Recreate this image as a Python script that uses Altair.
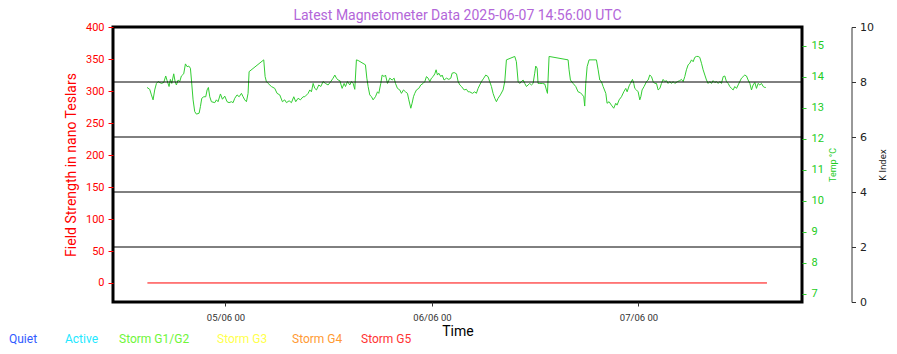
import altair as alt
import pandas as pd

# ---------------- data ----------------
title_text = "Latest Magnetometer Data 2025-06-07 14:56:00 UTC"
base_time = "2025-06-04T00:00:00"   # hours below are counted from here (UTC)

temp_hours = [
    14.89, 15.20, 15.40, 15.59, 15.78, 15.98, 16.17, 16.56, 16.83, 17.06, 17.22, 17.45, 17.60, 17.76, 17.99,
    18.15, 18.30, 18.50, 18.69, 18.88, 19.15, 19.35, 19.54, 19.74, 19.93, 20.05, 20.24, 20.43, 20.63, 20.94,
    21.09, 21.25, 21.48, 21.71, 21.87, 22.02, 22.18, 22.37, 22.76, 22.95, 23.14, 23.42, 23.65, 23.92, 24.19,
    24.42, 24.69, 24.89, 25.08, 25.35, 25.59, 25.86, 26.05, 26.24, 26.44, 26.63, 26.75, 28.45, 28.61, 28.76,
    28.96, 29.34, 29.73, 30.00, 30.31, 30.62, 30.89, 31.09, 31.40, 31.67, 31.94, 32.17, 32.44, 32.71, 33.02,
    33.22, 33.61, 33.80, 33.99, 34.19, 34.38, 34.58, 34.85, 35.08, 35.35, 35.62, 35.93, 36.24, 36.51, 36.71,
    36.90, 37.09, 37.29, 37.56, 37.79, 37.95, 38.18, 38.45, 38.64, 38.84, 39.03, 39.22, 39.42, 40.27, 40.43,
    40.58, 40.77, 40.97, 41.16, 41.43, 41.67, 41.82, 42.05, 42.21, 42.44, 42.60, 42.83, 43.10, 43.37, 43.60,
    43.76, 43.99, 44.26, 44.45, 44.69, 44.92, 45.15, 45.31, 45.54, 45.69, 45.85, 46.00, 46.20, 46.47, 46.70,
    46.97, 47.17, 47.36, 47.55, 47.75, 47.94, 48.13, 48.33, 48.48, 48.64, 48.79, 49.03, 49.18, 49.41, 49.68,
    49.96, 50.19, 50.34, 50.58, 50.85, 51.04, 51.24, 51.43, 51.74, 52.01, 52.20,
    52.39, 52.70, 52.97, 53.16, 53.36, 53.55, 53.75, 54.02, 54.25, 54.52, 54.71, 54.91, 55.10, 55.30, 55.49,
    55.68, 55.95, 56.26, 56.46, 56.65, 57.62, 57.81, 58.01, 58.20, 58.39, 58.59, 58.78, 58.98, 59.17, 59.36,
    59.56, 59.75, 59.94, 60.06, 60.22, 60.33, 60.53, 60.84, 61.11, 61.30, 61.42, 61.61, 63.82, 63.93, 64.09,
    64.40, 64.71, 64.98, 65.25, 65.48, 65.64, 65.75, 65.87, 66.03, 66.26, 67.11, 67.31, 67.50, 67.69, 67.89,
    68.20, 68.35, 68.58, 68.85, 69.12, 69.36, 69.51, 69.75, 70.02, 70.29, 70.52, 70.68, 70.91, 71.06, 71.30,
    71.45,
    71.57, 71.76, 71.96, 72.15, 72.27, 72.42, 72.65, 72.93, 73.12, 73.31, 73.51, 73.70, 73.89, 74.09, 74.28,
    74.48, 74.67, 74.86, 75.06, 75.25, 75.44, 75.64, 75.83, 76.02, 76.22, 76.53, 76.80, 76.99, 77.19, 77.38,
    77.57, 77.77, 77.96, 78.16, 78.35, 78.54, 78.74, 78.93, 79.12, 79.32, 79.51, 79.71, 79.90, 80.09, 80.29,
    80.48, 80.67, 80.87, 81.06, 81.26, 81.45, 81.64, 81.84, 82.03, 82.22, 82.42, 82.61, 82.80, 83.00, 83.19,
    83.39, 83.58, 83.77, 83.97, 84.16, 84.35, 84.55, 84.74, 84.94, 85.13, 85.32, 85.52, 85.71, 85.90, 86.10,
    86.29, 86.49, 86.68, 86.79,
]
temp_values = [
    13.65, 13.59, 13.41, 13.25, 13.57, 13.78, 13.84, 13.78, 13.81, 14.02, 13.87, 13.68, 13.91, 13.78, 14.09,
    13.84, 13.73, 13.89, 13.84, 14.02, 14.09, 14.41, 14.32, 14.34, 14.27, 13.89, 13.25, 12.87, 12.79, 12.82,
    13.03, 13.30, 13.35, 13.35, 13.57, 13.65, 13.35, 13.19, 13.16, 13.25, 13.19, 13.44, 13.27, 13.37, 13.19,
    13.16, 13.19, 13.16, 13.30, 13.41, 13.35, 13.46, 13.35, 13.25, 13.19, 13.46, 14.16, 14.54, 14.00, 13.84,
    13.78, 13.68, 13.62, 13.46, 13.41, 13.19, 13.25, 13.16, 13.22, 13.16, 13.35, 13.19, 13.30, 13.25, 13.35,
    13.35, 13.46, 13.57, 13.51, 13.78, 13.62, 13.57, 13.73, 13.68, 13.84, 13.78, 13.73, 13.84, 13.95, 14.05,
    13.95, 13.89, 13.87, 13.62, 13.78, 13.68, 13.84, 13.73, 13.84, 13.78, 13.59, 14.54, 14.52, 14.38, 13.95,
    13.68, 13.41, 13.35, 13.25, 13.35, 13.51, 13.46, 13.78, 14.05, 14.00, 14.05, 13.78, 13.95, 13.89, 13.95,
    13.78, 13.62, 13.57, 13.46, 13.57, 13.51, 13.46, 13.25, 12.98, 13.14, 13.35, 13.46, 13.57, 13.62, 13.73,
    13.78, 13.84, 14.00, 13.95, 13.84, 13.95, 14.00, 14.09, 14.22, 14.05, 14.11, 14.00, 14.05, 13.89, 13.95,
    13.91, 13.95, 14.11, 14.13, 14.09, 13.84, 13.73, 13.68, 13.57, 13.59, 13.51,
    13.51, 13.46, 13.51, 13.46, 13.62, 13.73, 13.84, 13.95, 14.05, 14.00, 13.84, 13.68, 13.46, 13.30, 13.19,
    13.30, 13.41, 13.57, 13.84, 14.54, 14.65, 14.48, 13.84, 13.78, 13.84, 13.89, 13.78, 13.68, 13.73, 13.78,
    13.73, 13.78, 14.11, 14.34, 14.27, 13.78, 13.78, 13.78, 13.76, 13.57, 13.46, 14.65, 14.54, 14.22, 13.89,
    13.78, 13.68, 13.51, 13.48, 13.41, 13.35, 13.05, 13.78, 14.32, 14.54, 14.54, 14.22, 13.89, 13.84, 13.68,
    13.46, 13.14, 13.19, 13.08, 12.98, 13.14, 13.08, 13.25, 13.35, 13.51, 13.62, 13.51, 13.70, 13.78, 13.91,
    13.78,
    13.62, 13.57, 13.51, 13.25, 13.35, 13.57, 13.68, 13.84, 13.89, 14.05, 14.00, 13.84, 13.78, 13.78, 13.57,
    13.62, 13.78, 13.91, 13.84, 13.87, 13.78, 13.84, 13.78, 13.84, 13.78, 13.84, 13.87, 13.91, 13.84, 14.00,
    14.22, 14.38, 14.43, 14.54, 14.48, 14.62, 14.65, 14.65, 14.62, 14.43, 14.22, 14.05, 13.89, 13.78, 13.84,
    13.78, 13.87, 13.81, 13.84, 13.78, 13.84, 13.78, 14.00, 14.02, 13.84, 13.78, 13.68, 13.62, 13.57, 13.68,
    13.62, 13.73, 13.84, 13.95, 14.00, 14.05, 14.02, 13.89, 13.78, 13.57, 13.73, 13.81, 13.62, 13.78, 13.73,
    13.78, 13.68, 13.65, 13.65,
]

field_hours = [14.93, 86.93]
field_values = [0.0, 0.0]

k_levels = [2, 4, 6, 8]

field_ticks = [0, 50, 100, 150, 200, 250, 300, 350, 400]
temp_ticks = [7, 8, 9, 10, 11, 12, 13, 14, 15]
k_ticks = [0, 2, 4, 6, 8, 10]
day_ticks = [5, 6, 7]   # June 2025, 00:00 UTC

legend_labels = ["Quiet", "Active", "Storm G1/G2", "Storm G3", "Storm G4", "Storm G5"]
legend_colors = ["#2f5bff", "#22e8ff", "#6ff53a", "#ffff4d", "#ff9a33", "#ff3333"]

# ---------------- layout constants ----------------
W, H = 689, 275
PAD_L, PAD_T = 113, 27
legend_x_abs = [9, 65, 119, 217, 292, 361]
legend_y_abs = 339

GREEN = "#32cd32"
LABEL_GREEN = "#22cc22"


def to_iso(hours):
    b = pd.Timestamp(base_time)
    return [(b + pd.Timedelta(hours=h)).strftime("%Y-%m-%dT%H:%M:%SZ") for h in hours]


temp_df = pd.DataFrame({"time": to_iso(temp_hours), "temp": temp_values})
field_df = pd.DataFrame({"time": to_iso(field_hours), "field": field_values})
k_df = pd.DataFrame({"k": k_levels})

x_scale = alt.Scale(
    type="utc",
    domain=[
        alt.DateTime(year=2025, month=6, date=4, hours=10, minutes=56, utc=True),
        alt.DateTime(year=2025, month=6, date=7, hours=19, minutes=0, utc=True),
    ],
)
x_axis = alt.Axis(
    values=[alt.DateTime(year=2025, month=6, date=d, hours=0, utc=True) for d in day_ticks],
    format="%d/%m %H",
    title="Time",
    domain=False,
    grid=False,
    tickColor="#333333",
    tickSize=4,
    labelPadding=6,
    labelFont="Roboto",
    labelFontSize=9.5,
    labelColor="#333333",
    titleFont="Roboto",
    titleFontSize=14,
    titleFontWeight="normal",
    titleColor="black",
    titleY=29,
    titleBaseline="middle",
)

field_line = alt.Chart(field_df).mark_line(color="red", strokeWidth=1).encode(
    x=alt.X("time:T", scale=x_scale, axis=x_axis),
    y=alt.Y(
        "field:Q",
        scale=alt.Scale(domain=[-29.8, 400.5], nice=False, zero=False),
        axis=alt.Axis(
            orient="left",
            values=field_ticks,
            domain=False,
            grid=False,
            tickColor="red",
            tickSize=5,
            labelColor="red",
            labelFont="Roboto",
            labelFontSize=11,
            labelPadding=4,
            title="Field Strength in nano Teslars",
            titleColor="red",
            titleFont="Roboto",
            titleFontSize=14,
            titleFontWeight="normal",
            titleAngle=270,
            titleX=-38,
            titleY=H / 2,
            titleAlign="center",
            titleBaseline="alphabetic",
        ),
    ),
)

temp_line = alt.Chart(temp_df).mark_line(color=GREEN, strokeWidth=1).encode(
    x=alt.X("time:T", scale=x_scale),
    y=alt.Y(
        "temp:Q",
        scale=alt.Scale(domain=[6.73, 15.6], nice=False, zero=False),
        axis=alt.Axis(
            orient="right",
            values=temp_ticks,
            domain=False,
            grid=False,
            tickColor=GREEN,
            tickSize=4,
            labelColor=LABEL_GREEN,
            labelFont="Roboto",
            labelFontSize=11,
            labelPadding=5,
            title="Temp °C",
            titleColor=LABEL_GREEN,
            titleFont="Roboto",
            titleFontSize=9,
            titleFontWeight="normal",
            titleAngle=270,
            titleX=33,
            titleY=H / 2,
            titleAlign="center",
            titleBaseline="alphabetic",
        ),
    ),
)

k_rules = alt.Chart(k_df).mark_rule(color="black", strokeWidth=1).encode(
    y=alt.Y(
        "k:Q",
        scale=alt.Scale(domain=[0, 10], nice=False, zero=False),
        axis=alt.Axis(
            orient="right",
            offset=49.5,
            values=k_ticks,
            domain=True,
            domainColor="#333333",
            domainWidth=1,
            grid=False,
            tickColor="#333333",
            tickSize=4,
            labelColor="#222222",
            labelFont="DejaVu Sans",
            labelFontSize=11,
            labelPadding=4,
            title="K Index",
            titleColor="#111111",
            titleFont="DejaVu Sans",
            titleFontSize=8.5,
            titleFontWeight="normal",
            titleAngle=270,
            titleX=34,
            titleY=H / 2,
            titleAlign="center",
            titleBaseline="alphabetic",
        ),
    ),
)

legend_layers = []
for lab, col, xa in zip(legend_labels, legend_colors, legend_x_abs):
    legend_layers.append(
        alt.Chart(pd.DataFrame({"label": [lab]}))
        .mark_text(align="left", baseline="middle", font="Roboto", fontSize=12, color=col)
        .encode(text="label:N", x=alt.value(xa - PAD_L), y=alt.value(legend_y_abs - PAD_T))
    )

chart = (
    alt.layer(field_line, temp_line, k_rules, *legend_layers)
    .resolve_scale(y="independent")
    .properties(
        width=W,
        height=H,
        title=alt.TitleParams(
            text=title_text,
            font="Roboto",
            fontSize=14,
            fontWeight="normal",
            color="#b366d9",
            anchor="middle",
            frame="group",
            offset=-2,
        ),
        autosize=alt.AutoSizeParams(type="none"),
        padding={"left": PAD_L, "top": PAD_T, "right": 897 - PAD_L - W, "bottom": 354 - PAD_T - H},
    )
    .configure(background="white")
    .configure_view(stroke="black", strokeWidth=3)
)

chart.save("out.html", embed_options={"renderer": "svg", "actions": False})
